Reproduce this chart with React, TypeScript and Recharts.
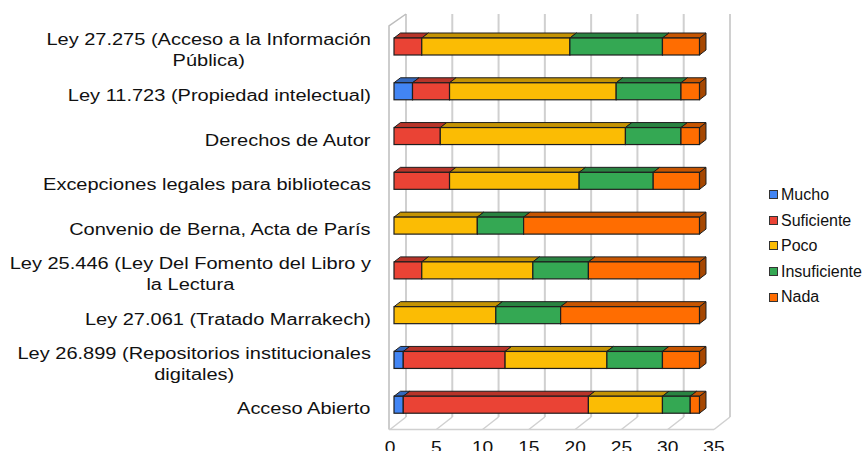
import React from 'react';
import { BarChart, Bar, XAxis, YAxis, CartesianGrid } from 'recharts';

// ---------- data ----------
const categories = [
  'Ley 27.275 (Acceso a la Información\nPública)',
  'Ley 11.723 (Propiedad intelectual)',
  'Derechos de Autor',
  'Excepciones legales para bibliotecas',
  'Convenio de Berna, Acta de París',
  'Ley 25.446 (Ley Del Fomento del Libro y\nla Lectura',
  'Ley 27.061 (Tratado Marrakech)',
  'Ley 26.899 (Repositorios institucionales\ndigitales)',
  'Acceso Abierto',
];
const mucho = [0, 2, 0, 0, 0, 0, 0, 1, 1];
const suficiente = [3, 4, 5, 6, 0, 3, 0, 11, 20];
const poco = [16, 18, 20, 14, 9, 12, 11, 11, 8];
const insuficiente = [10, 7, 6, 8, 5, 6, 7, 6, 3];
const nada = [4, 2, 2, 5, 19, 12, 15, 4, 1];
const xTicks = [0, 5, 10, 15, 20, 25, 30, 35];

const seriesNames = ['Mucho', 'Suficiente', 'Poco', 'Insuficiente', 'Nada'];
const seriesValues = [mucho, suficiente, poco, insuficiente, nada];
const frontColors = ['#4285f4', '#ea4335', '#fbbc04', '#34a853', '#ff6d01'];
const topColors = ['#3368be', '#b73429', '#c49303', '#298341', '#c75501'];
const sideColors = ['#2b5699', '#982c22', '#a37a03', '#226d36', '#a64701'];

const data = categories.map((name, i) => {
  const row: any = { name };
  seriesNames.forEach((s, k) => { row[s] = seriesValues[k][i]; });
  return row;
});

// ---------- layout ----------
const W = 867;
const H = 451;
const M_TOP = 14;
const M_RIGHT = 137;
const Y_AXIS_W = 406;
const X_AXIS_H = 34;
const PLOT_BOTTOM = H - X_AXIS_H; // back-wall floor line
const FLOOR_DX = -16;
const FLOOR_DY = 12.5;
const BAR_FX = -12; // front face offset from back wall
const BAR_FY = 10;
const DEPTH_X = 6.5; // bar depth
const DEPTH_Y = -5;
const FONT = '"Liberation Sans", Arial, sans-serif';
const LABEL_SX = 1.25;
const TICK_SX = 1.2;
const OUTLINE = '#1e1e1e';
const WALL = '#bdbdbd';
const GRID = '#d0d0d0';

let ctx: CanvasRenderingContext2D | null = null;
function measure(text: string, font: string) {
  if (!ctx) ctx = document.createElement('canvas').getContext('2d');
  if (!ctx) return text.length * 8;
  ctx.font = font;
  return ctx.measureText(text).width;
}

function make3D(k: number) {
  return (props: any) => {
    const { x, y, width, height } = props;
    if (!width || width <= 0.5) return <g />;
    const fx = x + BAR_FX;
    const fy = y + BAR_FY;
    const w = width;
    const h = height;
    const top = `${fx},${fy} ${fx + DEPTH_X},${fy + DEPTH_Y} ${fx + w + DEPTH_X},${fy + DEPTH_Y} ${fx + w},${fy}`;
    const side = `${fx + w},${fy} ${fx + w + DEPTH_X},${fy + DEPTH_Y} ${fx + w + DEPTH_X},${fy + h + DEPTH_Y} ${fx + w},${fy + h}`;
    return (
      <g>
        <polygon points={side} fill={sideColors[k]} stroke={OUTLINE} strokeWidth={1} strokeLinejoin="round" />
        <polygon points={top} fill={topColors[k]} stroke={OUTLINE} strokeWidth={1} strokeLinejoin="round" />
        <rect x={fx} y={fy} width={w} height={h} fill={frontColors[k]} stroke={OUTLINE} strokeWidth={1.2} />
      </g>
    );
  };
}

const CategoryTick = (props: any) => {
  const { x, y, payload } = props;
  const lines: string[] = String(payload.value).split('\n');
  const fontSize = 16;
  const font = `${fontSize}px "Liberation Sans"`;
  const maxW = Math.max(...lines.map((l) => measure(l, font))) * LABEL_SX;
  const right = x - 35;
  const cx = right - maxW / 2;
  const lh = 21;
  const center = y + 14;
  return (
    <g>
      {lines.map((l, i) => {
        const ly = center + (i - (lines.length - 1) / 2) * lh + fontSize * 0.35;
        return (
          <g key={i} transform={`translate(${cx},${ly}) scale(${LABEL_SX},1)`}>
            <text x={0} y={0} textAnchor="middle" fontSize={fontSize} fontFamily={FONT} fill="#111">
              {l}
            </text>
          </g>
        );
      })}
    </g>
  );
};

const ValueTick = (props: any) => {
  const { x, payload } = props;
  const fx = x + FLOOR_DX;
  const fy = PLOT_BOTTOM + FLOOR_DY;
  const isFirst = payload.value === xTicks[0];
  return (
    <g>
      <line x1={fx} y1={fy} x2={x} y2={PLOT_BOTTOM} stroke={GRID} strokeWidth={1.5} />
      {isFirst && (
        <polyline
          points={`${fx - 1},${fy} ${fx - 1},${M_TOP + 12} ${x},${M_TOP}`}
          fill="none"
          stroke={WALL}
          strokeWidth={1.5}
        />
      )}
      <g transform={`translate(${fx},${H + 1.5}) scale(${TICK_SX},1)`}>
        <text x={0} y={0} textAnchor="middle" fontSize={16} fontFamily={FONT} fill="#111">
          {payload.value}
        </text>
      </g>
    </g>
  );
};

const LegendBox = () => (
  <div
    style={{
      position: 'absolute',
      left: 769,
      top: 182,
      fontFamily: FONT,
      fontSize: 16,
      color: '#111',
      lineHeight: '25.6px',
    }}
  >
    {seriesNames.map((s, k) => (
      <div key={s} style={{ display: 'flex', alignItems: 'center', height: 25.6 }}>
        <span
          style={{
            display: 'inline-block',
            width: 7,
            height: 7,
            background: frontColors[k],
            border: '1px solid #333',
            marginRight: 3,
          }}
        />
        <span>{s}</span>
      </div>
    ))}
  </div>
);

export default function App() {
  return (
    <div style={{ position: 'absolute', left: 0, top: 0, width: W, height: H, background: '#fff' }}>
      <BarChart
        width={W}
        height={H}
        data={data}
        layout="vertical"
        margin={{ top: M_TOP, right: M_RIGHT, bottom: 0, left: 0 }}
        barSize={17}
      >
        <CartesianGrid horizontal={false} stroke={GRID} strokeWidth={2} />
        <XAxis
          type="number"
          domain={[0, 35]}
          ticks={xTicks}
          interval={0}
          axisLine={false}
          tickLine={false}
          height={X_AXIS_H}
          tick={<ValueTick />}
        />
        <YAxis
          type="category"
          dataKey="name"
          width={Y_AXIS_W}
          axisLine={false}
          tickLine={false}
          tickSize={0}
          tickMargin={0}
          interval={0}
          tick={<CategoryTick />}
        />
        {seriesNames.map((s, k) => (
          <Bar key={s} dataKey={s} stackId="a" isAnimationActive={false} shape={make3D(k)} />
        ))}
      </BarChart>
      <svg
        width={W}
        height={H}
        style={{ position: 'absolute', left: 0, top: 0, pointerEvents: 'none' }}
      >
        <line
          x1={Y_AXIS_W + FLOOR_DX - 1}
          y1={PLOT_BOTTOM + FLOOR_DY}
          x2={W - M_RIGHT + FLOOR_DX}
          y2={PLOT_BOTTOM + FLOOR_DY}
          stroke={GRID}
          strokeWidth={1.5}
        />
      </svg>
      <LegendBox />
    </div>
  );
}
